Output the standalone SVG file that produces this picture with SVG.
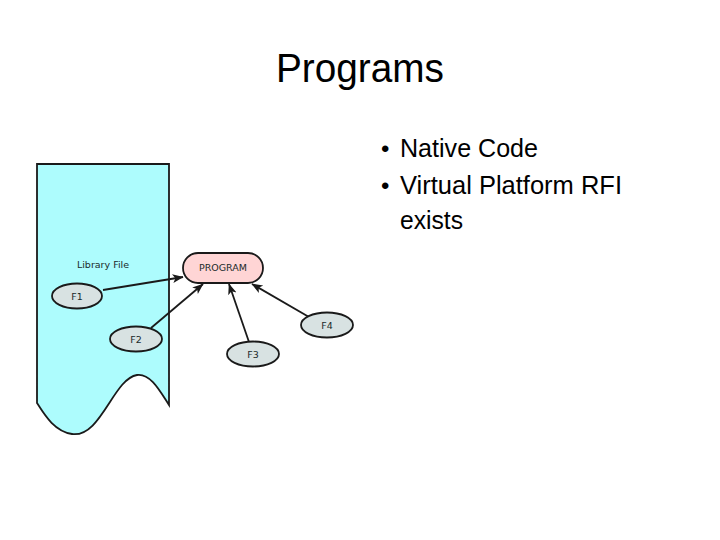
<svg xmlns="http://www.w3.org/2000/svg" width="720" height="540" viewBox="0 0 720 540">
<style>
.t{font-family:"Liberation Sans",Arial,sans-serif;fill:#000}
.d{font-family:"DejaVu Sans",sans-serif;font-size:9.5px;fill:#1a2a2a;text-anchor:middle}
.f{fill:#d8e2e2;stroke:#1a1a1a;stroke-width:1.8}
.c{stroke:#1a1a1a;stroke-width:1.8;fill:none;marker-end:url(#ah)}
</style>
<defs>
<marker id="ah" viewBox="0 0 10 10" refX="9.5" refY="5" markerWidth="11" markerHeight="11" markerUnits="userSpaceOnUse" orient="auto">
<path d="M0,1 L10,5 L0,9 L2.5,5 Z" fill="#1a1a1a"/>
</marker>
</defs>
<rect width="720" height="540" fill="#fff"/>
<text class="t" x="276" y="82" font-size="40" textLength="168" lengthAdjust="spacingAndGlyphs">Programs</text>
<g id="bullets">
<text class="t" x="381" y="157" font-size="24">•</text>
<text class="t" x="400" y="157" font-size="26" textLength="138" lengthAdjust="spacingAndGlyphs">Native Code</text>
<text class="t" x="381" y="194" font-size="24">•</text>
<text class="t" x="400" y="194" font-size="26" textLength="222" lengthAdjust="spacingAndGlyphs">Virtual Platform RFI</text>
<text class="t" x="400" y="229" font-size="26" textLength="63" lengthAdjust="spacingAndGlyphs">exists</text>
</g>
<g id="library">
<path d="M37,164 H169 V405 C161,393 151,373 137,375 C113,379 101,438 72,434 C53,431 43,412 37,403 Z" fill="#adfcfd" stroke="#1a1a1a" stroke-width="1.8"/>
<text class="d" x="103" y="268">Library File</text>
</g>
<g id="connectors">
<line class="c" x1="103" y1="290" x2="183" y2="277"/>
<line class="c" x1="151" y1="328" x2="203" y2="284"/>
<line class="c" x1="249" y1="342" x2="229" y2="284"/>
<line class="c" x1="309" y1="317" x2="252" y2="284"/>
</g>
<g id="program">
<rect x="183" y="253" width="80" height="30" rx="15" ry="15" fill="#ffd5d5" stroke="#1a1a1a" stroke-width="1.8"/>
<text class="d" x="223" y="271">PROGRAM</text>
</g>
<g id="f1"><ellipse class="f" cx="77" cy="296" rx="25" ry="12.5"/><text class="d" x="77" y="299.5">F1</text></g>
<g id="f2"><ellipse class="f" cx="136" cy="339" rx="26" ry="12.5"/><text class="d" x="136" y="342.5">F2</text></g>
<g id="f3"><ellipse class="f" cx="253" cy="354" rx="26" ry="12.5"/><text class="d" x="253" y="357.5">F3</text></g>
<g id="f4"><ellipse class="f" cx="327" cy="325" rx="26" ry="12.5"/><text class="d" x="327" y="328.5">F4</text></g>
</svg>
